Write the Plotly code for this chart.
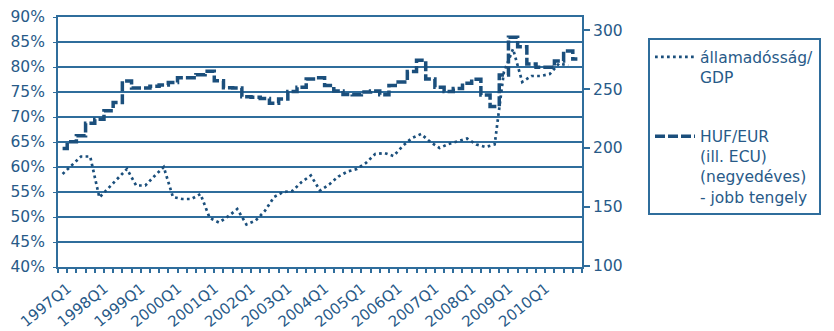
import plotly.graph_objects as go

quarters = [f"{y}Q{q}" for y in range(1997, 2012) for q in range(1, 5)][:57]

debt_gdp = [58.6, 60.3, 62.1, 62.1, 53.9, 55.8, 57.8, 59.6, 56.3, 56.3,
            58.2, 60.0, 54.0, 53.6, 53.6, 54.6, 49.8, 48.9, 50.1, 51.6,
            48.5, 49.3, 51.2, 54.0, 55.0, 55.2, 57.0, 58.3, 55.3, 56.5,
            58.1, 59.1, 59.6, 60.8, 62.6, 62.8, 62.2, 64.2, 65.8, 66.6,
            65.0, 63.8, 64.6, 65.1, 65.7, 64.5, 64.0, 64.5, 79.0, 83.6,
            77.0, 78.2, 78.2, 78.6, 80.7, 80.3, None]

huf_eur = [199.6, 205.2, 210.4, 221.0, 224.3, 231.7, 238.7, 257.0, 251.0, 251.0,
           252.5, 253.5, 255.7, 259.6, 259.6, 262.3, 265.1, 257.1, 251.1, 250.9,
           243.6, 243.0, 242.0, 237.9, 241.6, 248.0, 251.5, 258.5, 259.6, 253.0,
           248.5, 245.5, 245.2, 247.5, 248.5, 245.2, 253.0, 256.0, 265.0, 274.5,
           258.5, 251.5, 248.0, 250.5, 255.0, 258.3, 245.0, 235.3, 262.0, 294.0,
           286.0, 271.3, 268.5, 268.5, 274.0, 282.5, 275.5]

tick_text = [q if q.endswith("Q1") and q != "2011Q1" else "" for q in quarters]

LINE = "#1b4f7c"
GRID = "#2f6d9c"
TEXT = "#285a88"

fig = go.Figure()
fig.add_trace(go.Scatter(
    x=quarters, y=debt_gdp, mode="lines", name="államadósság/<br>GDP",
    legendgroup="a",
    line=dict(color=LINE, width=2.7, dash="2.7px,3.3px"),
))
fig.add_trace(go.Scatter(
    x=quarters, y=huf_eur, mode="lines", yaxis="y2",
    name="HUF/EUR<br>(ill. ECU)<br>(negyedéves)<br>- jobb tengely",
    legendgroup="b",
    line=dict(color=LINE, width=3.5, dash="10px,3px", shape="hvh"),
))

fig.update_layout(
    width=834, height=331,
    margin=dict(l=58, r=252, t=17, b=64, autoexpand=False),
    paper_bgcolor="white", plot_bgcolor="white",
    font=dict(family="DejaVu Sans", size=15, color=TEXT),
    showlegend=True,
    legend=dict(
        x=1.126, y=0.915, xanchor="left", yanchor="top",
        bordercolor=GRID, borderwidth=2, bgcolor="white",
        tracegroupgap=36, valign="top", itemwidth=40,
        font=dict(family="DejaVu Sans", size=15.5, color=TEXT),
    ),
    xaxis=dict(
        type="category", range=[-0.5, 56.5],
        tickvals=quarters, ticktext=tick_text, tickson="boundaries",
        ticks="outside", ticklen=4, tickwidth=1.5, tickcolor=GRID,
        tickangle=-39, showgrid=False,
        ticklabelstandoff=5, ticklabelshift=5,
        showline=True, linecolor=GRID, linewidth=2, mirror=True,
        tickfont=dict(size=15, color=TEXT),
    ),
    yaxis=dict(
        range=[40, 90], dtick=5, ticksuffix="%",
        showgrid=True, gridcolor=GRID, gridwidth=1.5,
        showline=True, linecolor=GRID, linewidth=2,
        ticks="outside", ticklen=3, tickcolor=GRID,
        ticklabelstandoff=5,
        zeroline=False, tickfont=dict(size=15.5, color=TEXT),
    ),
    yaxis2=dict(
        overlaying="y", side="right", range=[98.8, 311.3],
        tickvals=[100, 150, 200, 250, 300],
        showgrid=False, showline=True, linecolor=GRID, linewidth=2,
        ticks="outside", ticklen=6, tickcolor=GRID, tickwidth=1.5,
        zeroline=False, tickfont=dict(size=15.5, color=TEXT),
    ),
)

fig.write_html("out.html")
